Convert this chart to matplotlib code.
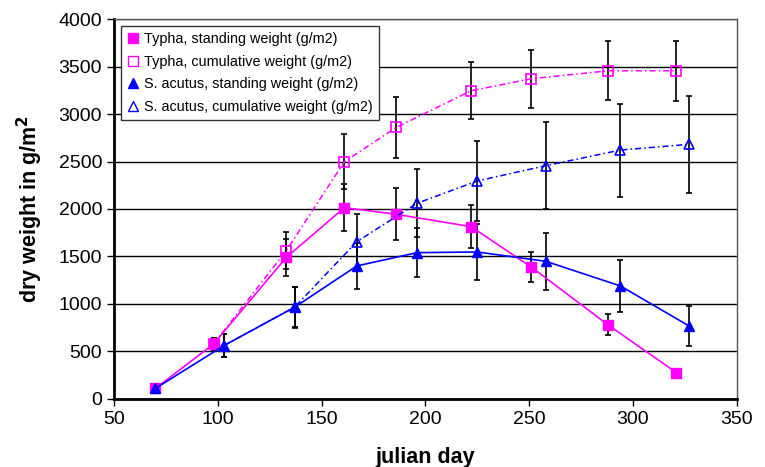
import matplotlib
matplotlib.use("Agg")
import matplotlib.pyplot as plt
from matplotlib.lines import Line2D
import numpy as np

plt.rcParams['font.family'] = ['Liberation Sans', 'DejaVu Sans']

# Typha
typha_days = [70, 98, 133, 161, 186, 222, 251, 288, 321]
typha_stand = [110, 578, 1490, 2014, 1944, 1814, 1389, 779, 275]
typha_stand_err = [0, 60, 195, 250, 275, 228, 163, 110, 30]
typha_cum_days = [98, 133, 161, 186, 222, 251, 288, 321]
typha_cum = [578, 1561, 2498, 2860, 3245, 3372, 3456, 3456]
typha_cum_err = [60, 197, 290, 320, 300, 307, 312, 316]

# S. acutus
acutus_days = [70, 103, 137, 167, 196, 225, 258, 294, 327]
acutus_stand = [110, 561, 965, 1400, 1540, 1547, 1449, 1189, 768]
acutus_stand_err = [0, 125, 210, 245, 255, 300, 300, 270, 210]
acutus_cum_days = [103, 137, 167, 196, 225, 258, 294, 327]
acutus_cum = [561, 965, 1656, 2060, 2295, 2456, 2621, 2681]
acutus_cum_err = [125, 215, 290, 358, 420, 460, 490, 510]

labels = ["Typha, standing weight (g/m2)",
          "Typha, cumulative weight (g/m2)",
          "S. acutus, standing weight (g/m2)",
          "S. acutus, cumulative weight (g/m2)"]

mag = "#FF00FF"
blu = "#0000FF"
dashdot = (0, (4, 2, 1, 2))

fig = plt.figure(figsize=(7.65, 4.67), dpi=100)
ax = fig.add_axes([0.149, 0.146, 0.814, 0.813])

# error bars
eb = dict(fmt="none", ecolor="black", elinewidth=1.2, capsize=2.2, capthick=1.2, zorder=4)
ax.errorbar(typha_days, typha_stand, yerr=typha_stand_err, **eb)
ax.errorbar(typha_cum_days, typha_cum, yerr=typha_cum_err, **eb)
ax.errorbar(acutus_days, acutus_stand, yerr=acutus_stand_err, **eb)
ax.errorbar(acutus_cum_days, acutus_cum, yerr=acutus_cum_err, **eb)

# lines
ax.plot(typha_days, typha_stand, color=mag, lw=1.2, marker="s", ms=6.5,
        mfc=mag, mec=mag, zorder=5)
ax.plot(typha_cum_days, typha_cum, color=mag, lw=1.1, ls=dashdot, marker="s", ms=6.5,
        mfc="none", mec=mag, mew=1.2, zorder=5)
ax.plot(acutus_days, acutus_stand, color=blu, lw=1.2, marker="^", ms=7.5,
        mfc=blu, mec=blu, zorder=5)
ax.plot(acutus_cum_days, acutus_cum, color=blu, lw=1.1, ls=dashdot, marker="^", ms=7.5,
        mfc="none", mec=blu, mew=1.2, zorder=5)

ax.set_xlim(50, 350)
ax.set_ylim(0, 4000)
ax.set_xticks(np.arange(50, 351, 50))
ax.set_yticks(np.arange(0, 4001, 500))
ax.yaxis.grid(True, color="black", lw=1)
ax.set_axisbelow(True)

for s in ["left", "bottom"]:
    ax.spines[s].set_linewidth(2)
for s in ["top", "right"]:
    ax.spines[s].set_linewidth(1)
    ax.spines[s].set_color("#555555")
ax.tick_params(direction="out", length=5, width=1, labelsize=14)

ax.set_xlabel("julian day", fontsize=15.5, fontweight="bold", labelpad=14)
ax.set_ylabel(r"dry weight in g/m$^\mathbf{2}$", fontsize=15.5, fontweight="bold",
              labelpad=10)

handles = [
    Line2D([], [], ls="none", marker="s", ms=6.5, mfc=mag, mec=mag),
    Line2D([], [], ls="none", marker="s", ms=6.5, mfc="none", mec=mag),
    Line2D([], [], ls="none", marker="^", ms=7, mfc=blu, mec=blu),
    Line2D([], [], ls="none", marker="^", ms=7, mfc="none", mec=blu),
]
leg = ax.legend(handles, labels, loc="upper left", bbox_to_anchor=(0.0, 1.0),
                fontsize=10.4, frameon=True, fancybox=False, handlelength=0.8,
                handletextpad=0.4, borderpad=0.4, labelspacing=0.6, framealpha=1)
leg.get_frame().set_edgecolor("#333333")
leg.get_frame().set_linewidth(1)
leg.set_zorder(10)

fig.savefig("out.png", dpi=100)
